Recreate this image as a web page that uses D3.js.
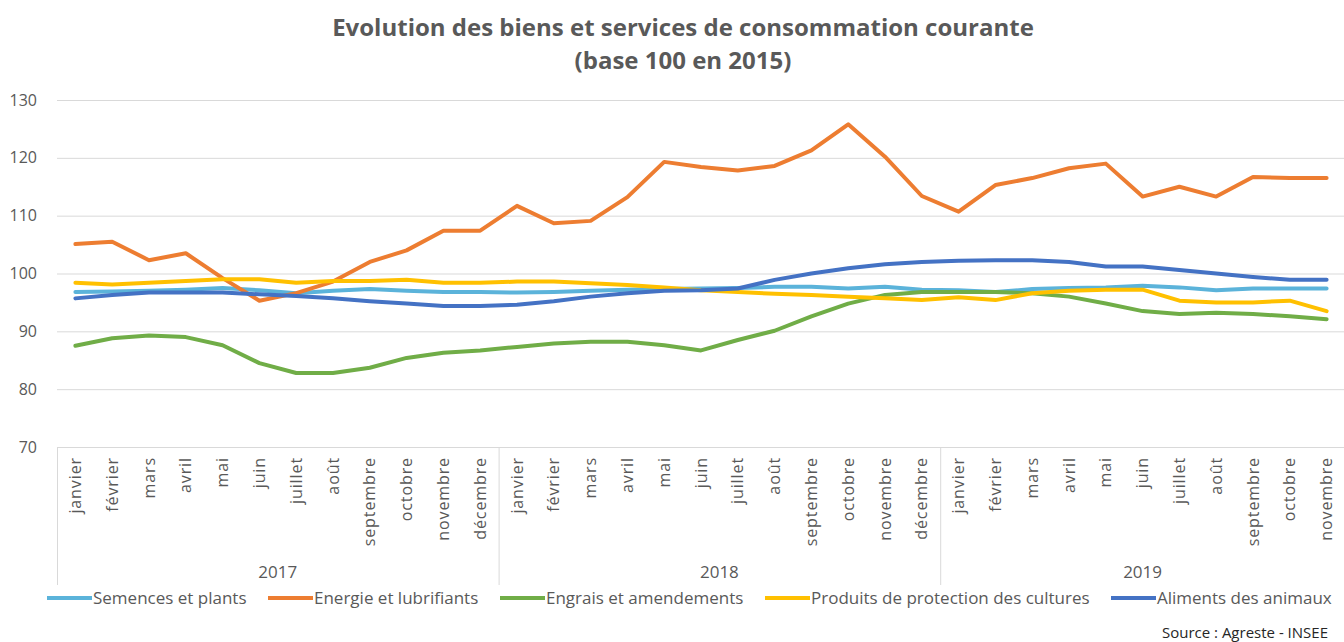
<!DOCTYPE html>
<html>
<head>
<meta charset="utf-8">
<script src="https://d3js.org/d3.v7.min.js"></script>
<style>
  body { margin: 0; background: #fff; }
  svg { font-family: "Open Sans", "Noto Sans", sans-serif; }
</style>
</head>
<body>
<svg width="1344" height="642"></svg>
<script>
var moisNoms = ["janvier", "février", "mars", "avril", "mai", "juin", "juillet", "août", "septembre", "octobre", "novembre", "décembre"];
var annees = ["2017", "2018", "2019"];
var moisParAnnee = [12, 12, 11];
var yTicks = [70, 80, 90, 100, 110, 120, 130];

var semences = [96.8, 96.9, 97.0, 97.2, 97.5, 97.1, 96.6, 97.0, 97.3, 97.0, 96.8, 96.8,
                96.7, 96.8, 97.0, 97.2, 97.3, 97.4, 97.5, 97.7, 97.7, 97.4, 97.7, 97.2,
                97.1, 96.8, 97.3, 97.5, 97.6, 97.9, 97.6, 97.1, 97.4, 97.4, 97.4];
var energie = [105.1, 105.5, 102.3, 103.5, 99.2, 95.3, 96.6, 98.6, 102.0, 104.0, 107.4, 107.4,
               111.7, 108.7, 109.1, 113.2, 119.3, 118.4, 117.8, 118.6, 121.3, 125.8, 120.2, 113.4,
               110.7, 115.3, 116.5, 118.2, 119.0, 113.3, 115.0, 113.3, 116.7, 116.5, 116.5];
var engrais = [87.5, 88.8, 89.3, 89.0, 87.6, 84.5, 82.8, 82.8, 83.7, 85.4, 86.3, 86.7,
               87.3, 87.9, 88.2, 88.2, 87.6, 86.7, 88.5, 90.1, 92.6, 94.8, 96.3, 96.8,
               96.8, 96.8, 96.6, 96.0, 94.8, 93.5, 93.0, 93.2, 93.0, 92.6, 92.1];
var produits = [98.4, 98.1, 98.4, 98.7, 99.0, 99.0, 98.4, 98.7, 98.7, 98.9, 98.4, 98.4,
                98.6, 98.6, 98.3, 98.0, 97.6, 97.1, 96.8, 96.5, 96.3, 96.0, 95.7, 95.4,
                95.9, 95.4, 96.6, 97.0, 97.2, 97.2, 95.3, 95.0, 95.0, 95.3, 93.5];
var aliments = [95.7, 96.3, 96.7, 96.7, 96.7, 96.4, 96.1, 95.7, 95.2, 94.8, 94.4, 94.4,
                94.6, 95.2, 96.0, 96.6, 97.0, 97.1, 97.4, 98.9, 100.0, 100.9, 101.6, 102.0,
                102.2, 102.3, 102.3, 102.0, 101.2, 101.2, 100.6, 100.0, 99.4, 98.9, 98.9];

var seriesNoms = ["Semences et plants", "Energie et lubrifiants", "Engrais et amendements", "Produits de protection des cultures", "Aliments des animaux"];
var seriesCouleurs = ["#5BB3DA", "#ED7D31", "#70AD47", "#FFC000", "#4472C4"];
var seriesValeurs = [semences, energie, engrais, produits, aliments];

// categories: one per month
var cats = [];
annees.forEach(function (a, ai) {
    for (var m = 0; m < moisParAnnee[ai]; m++) cats.push({ annee: a, mois: moisNoms[m], key: a + "-" + m });
});

var svg = d3.select("svg");
var gridColor = "#d9d9d9";
var textColor = "#595959";

var x = d3.scaleBand().domain(cats.map(function (d) { return d.key; })).range([57, 1345]).padding(0);
var y = d3.scaleLinear().domain([70, 130]).range([447, 100]);
function cx(i) { return x(cats[i].key) + x.bandwidth() / 2; }

// title
svg.append("text").attr("x", 683).attr("y", 36).attr("text-anchor", "middle")
    .attr("font-size", "24px").attr("font-weight", "bold").attr("fill", textColor)
    .text("Evolution des biens et services de consommation courante");
svg.append("text").attr("x", 683).attr("y", 69).attr("text-anchor", "middle")
    .attr("font-size", "24px").attr("font-weight", "bold").attr("fill", textColor)
    .text("(base 100 en 2015)");

// gridlines + y axis labels
var yAxis = svg.append("g").attr("transform", "translate(57,0)")
    .call(d3.axisLeft(y).tickValues(yTicks).tickSize(-(1345 - 57)).tickPadding(20));
yAxis.select(".domain").remove();
yAxis.selectAll(".tick line").attr("stroke", gridColor).attr("stroke-width", 1);
yAxis.selectAll(".tick text").attr("fill", textColor).attr("font-size", "16px")
    .attr("font-family", "Open Sans, sans-serif");

// category axis box
var axisBottom = 585;
var boundaries = [0];
var acc = 0;
moisParAnnee.forEach(function (n) { acc += n; boundaries.push(acc); });
boundaries.forEach(function (b, i) {
    if (i === boundaries.length - 1) return;
    var xb = x(cats[b].key);
    svg.append("line").attr("x1", xb + 0.5).attr("x2", xb + 0.5).attr("y1", 447).attr("y2", axisBottom)
        .attr("stroke", gridColor);
});

// month labels
svg.append("g").selectAll("text").data(cats).enter().append("text")
    .attr("transform", function (d, i) { return "translate(" + cx(i) + ",457) rotate(-90)"; })
    .attr("text-anchor", "end").attr("dy", "0.35em")
    .attr("font-size", "16px").attr("letter-spacing", "0.9px").attr("fill", textColor)
    .text(function (d) { return d.mois; });

// year labels
annees.forEach(function (a, ai) {
    var x0 = x(cats[boundaries[ai]].key);
    var x1 = boundaries[ai + 1] < cats.length ? x(cats[boundaries[ai + 1]].key) : 1345;
    svg.append("text").attr("x", (x0 + x1) / 2).attr("y", 578).attr("text-anchor", "middle")
        .attr("font-size", "17px").attr("fill", textColor).text(a);
});

// lines
var line = d3.line().x(function (d, i) { return cx(i); }).y(function (d) { return y(d); });
seriesValeurs.forEach(function (vals, s) {
    svg.append("path").datum(vals)
        .attr("fill", "none").attr("stroke", seriesCouleurs[s]).attr("stroke-width", 4)
        .attr("stroke-linejoin", "round").attr("stroke-linecap", "round")
        .attr("d", line);
});

// legend
var legendX = [47, 268, 500, 765, 1111];
var leg = svg.append("g");
seriesNoms.forEach(function (n, i) {
    leg.append("line").attr("x1", legendX[i]).attr("x2", legendX[i] + 45).attr("y1", 598).attr("y2", 598)
        .attr("stroke", seriesCouleurs[i]).attr("stroke-width", 4);
    leg.append("text").attr("x", legendX[i] + 46).attr("y", 598).attr("dy", "0.35em")
        .attr("font-size", "17px").attr("fill", textColor).text(n);
});

// source
svg.append("text").attr("x", 1328).attr("y", 638).attr("text-anchor", "end")
    .attr("font-size", "15px").attr("fill", "#262626").text("Source : Agreste - INSEE");
</script>
</body>
</html>
